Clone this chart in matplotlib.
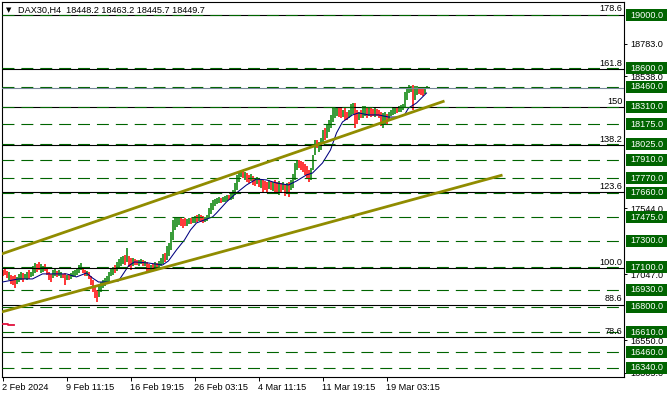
import matplotlib
matplotlib.use("Agg")
import matplotlib.pyplot as plt
from matplotlib import transforms
from matplotlib.patches import Rectangle

plt.rcParams['font.family'] = ['Liberation Sans', 'DejaVu Sans']
plt.rcParams['font.size'] = 6.6
plt.rcParams['lines.scale_dashes'] = False

# ---- data: DAX30 H4 bars (high / low / direction u=up d=down) ----
highs = [
    17079, 17086, 17071, 17064, 17041, 17034, 17041, 17026, 17049, 17064,
    17056, 17049, 17064, 17079, 17064, 17109, 17131, 17124, 17139, 17124,
    17109, 17124, 17094, 17064, 17049, 17079, 17094, 17071, 17079, 17064,
    17049, 17056, 17041, 17049, 17056, 17071, 17079, 17094, 17116, 17131,
    17101, 17079, 17071, 17064, 17034, 17003, 16958, 16928, 16958, 16988,
    17003, 17018, 17034, 17064, 17094, 17101, 17116, 17139, 17162, 17177,
    17184, 17192, 17244, 17184, 17169, 17169, 17162, 17154, 17154, 17162,
    17154, 17147, 17139, 17124, 17116, 17124, 17139, 17131, 17147, 17169,
    17199, 17207, 17259, 17282, 17365, 17456, 17470, 17470, 17478, 17470,
    17463, 17470, 17463, 17470, 17470, 17478, 17486, 17493, 17501, 17493,
    17486, 17478, 17493, 17546, 17584, 17606, 17614, 17621, 17629, 17621,
    17629, 17636, 17644, 17644, 17659, 17682, 17734, 17795, 17825, 17832,
    17832, 17817, 17809, 17795, 17802, 17787, 17772, 17779, 17772, 17764,
    17757, 17749, 17742, 17757, 17749, 17742, 17757, 17742, 17749, 17734,
    17742, 17727, 17734, 17742, 17757, 17802, 17885, 17908, 17908, 17900,
    17892, 17877, 17862, 17832, 17847, 17945, 18058, 18058, 18043, 18073,
    18134, 18149, 18171, 18209, 18247, 18299, 18299, 18307, 18299, 18299,
    18284, 18299, 18269, 18284, 18330, 18337, 18337, 18284, 18269, 18284,
    18314, 18314, 18299, 18307, 18299, 18292, 18299, 18292, 18284, 18269,
    18262, 18269, 18254, 18269, 18284, 18299, 18299, 18307, 18314, 18322,
    18330, 18420, 18450, 18473, 18465, 18473, 18465, 18465, 18457, 18450,
    18442, 18450, 18463.2,
]
lows = [
    17034, 17041, 17018, 17003, 16973, 16966, 16943, 16973, 16988, 17003,
    16988, 17011, 17003, 17011, 17026, 17034, 17056, 17064, 17079, 17056,
    17064, 17071, 17041, 17003, 16988, 17018, 17034, 17026, 17034, 17018,
    17018, 16966, 17003, 17003, 17011, 17026, 17034, 17041, 17056, 17079,
    17056, 17034, 17034, 17011, 16966, 16913, 16868, 16838, 16875, 16913,
    16943, 16958, 16973, 16988, 17034, 17041, 17056, 17071, 17094, 17109,
    17124, 17116, 17139, 17101, 17079, 17109, 17116, 17116, 17109, 17124,
    17109, 17109, 17064, 17071, 17064, 17079, 17086, 17079, 17094, 17109,
    17124, 17139, 17154, 17184, 17230, 17305, 17380, 17403, 17418, 17410,
    17395, 17410, 17410, 17425, 17425, 17433, 17433, 17440, 17448, 17440,
    17433, 17440, 17448, 17470, 17501, 17531, 17561, 17576, 17584, 17584,
    17591, 17591, 17599, 17606, 17606, 17614, 17644, 17682, 17742, 17779,
    17772, 17757, 17742, 17734, 17749, 17719, 17712, 17727, 17704, 17697,
    17666, 17682, 17659, 17689, 17682, 17674, 17666, 17659, 17644, 17666,
    17682, 17636, 17651, 17629, 17682, 17697, 17757, 17832, 17847, 17832,
    17817, 17795, 17772, 17742, 17757, 17832, 17945, 17998, 17968, 17983,
    18043, 18058, 18073, 18118, 18149, 18194, 18224, 18239, 18231, 18224,
    18231, 18209, 18209, 18224, 18239, 18254, 18149, 18179, 18209, 18224,
    18224, 18239, 18224, 18239, 18231, 18239, 18231, 18239, 18224, 18164,
    18149, 18171, 18179, 18209, 18239, 18247, 18254, 18262, 18269, 18269,
    18284, 18299, 18360, 18412, 18420, 18284, 18360, 18397, 18405, 18397,
    18390, 18405, 18445.7,
]
directions = (
    "ddduddduuu" "duuduuuddu" "udddduuduu" "dduduuuuuu" "dduddddduu"
    "uuuuuuduuu" "ududdudduu" "duddududuu" "uduuuuuuud" "dduuduudud"
    "duuuuuuuud" "uuuduuuuuu" "dudduddudu" "dddududdud" "ududuuuudd"
    "dddduuuduu" "uduuuuuudd" "udduuuddud" "uududduddd" "uuduuuuduu"
    "uuuuuduudd" "duu"
)
last_ohlc = (18448.2, 18463.2, 18445.7, 18449.7)

# moving average (navy line) read at selected bars
ma_idx = [0, 8, 15, 20, 32, 37, 42, 45, 48, 53, 58, 60, 63, 66, 73, 80, 83, 87,
          91, 94, 97, 101, 105, 107, 112, 117, 122, 127, 132, 137, 143, 147,
          152, 155, 160, 164, 167, 170, 175, 178, 183, 188, 193, 198, 201, 203,
          207, 211, 212]
ma_val = [16988, 17011, 17011, 17049, 17049, 17026, 17056, 17018, 16988, 16988,
          16996, 17041, 17109, 17139, 17131, 17116, 17147, 17230, 17305, 17380,
          17433, 17456, 17478, 17508, 17591, 17659, 17719, 17764, 17757, 17734,
          17719, 17749, 17795, 17809, 17885, 17983, 18111, 18194, 18247, 18262,
          18247, 18247, 18231, 18231, 18247, 18299, 18337, 18397, 18412]

# horizontal levels
levels = [19000, 18600, 18460, 18310, 18175, 18025, 17910, 17770, 17660,
          17475, 17300, 17100, 16930, 16800, 16610, 16460, 16340]
fib_low, fib_high = 14662, 17091
fib_ratios = [78.6, 88.6, 100.0, 123.6, 138.2, 150, 161.8, 178.6]
fib_labels = ["78.6", "88.6", "100.0", "123.6", "138.2", "150", "161.8", "178.6"]

# trend lines (bar index, price)
upper_line = ([-0.5, 221], [17199, 18352])
lower_line = ([-0.5, 250], [16762, 17794])
red_mark = ([0, 2.5, 2.5, 5.5], [16674, 16674, 16664, 16664])

# price scale labels that are not hidden behind the level boxes
price_ticks = [18783, 18538, 17544, 17047, 16550, 16305]
date_pos = [0, 32, 64, 96, 128, 160, 192]
date_labels = ["2 Feb 2024", "9 Feb 11:15", "16 Feb 19:15", "26 Feb 03:15",
               "4 Mar 11:15", "11 Mar 19:15", "19 Mar 03:15"]

# ---- figure ----
W, H = 670, 398
fig = plt.figure(figsize=(W / 100, H / 100), dpi=100)
L, R, T, B = 2, 624, 2, 377
ax = fig.add_axes([L / W, (H - B) / H, (R - L) / W, (B - T) / H])
ax.set_xlim(-0.25, 310.75)
ax.set_ylim(16272, 19098)
for s in ax.spines.values():
    s.set_linewidth(0.8)
    s.set_color("black")

# bars
idx = list(range(len(highs)))
cols = ["#008000" if d == "u" else "#ff0000" for d in directions]
ax.vlines(idx, lows, highs, colors=cols, linewidths=1.1, zorder=2)

# moving average
ax.plot(ma_idx, ma_val, color="#000080", lw=0.75, zorder=3)

# fibo lines
for r, lab in zip(fib_ratios, fib_labels):
    lv = fib_low + (fib_high - fib_low) * r / 100
    ax.axhline(lv, color="black", lw=0.8, zorder=4)
    ax.text(310, lv + 12, lab, ha="right", va="bottom", zorder=6)

# support / resistance levels
for lv in levels:
    ax.axhline(lv, color="#006400", lw=0.8, linestyle=(0, (8.6, 5.0)), zorder=5)

# bid line
ax.axhline(last_ohlc[3], color="#778899", lw=0.8, zorder=5)

# trend lines
ax.plot(*upper_line, color="#908c00", lw=2.0, zorder=5, solid_capstyle="butt")
ax.plot(*lower_line, color="#908c00", lw=2.0, zorder=5, solid_capstyle="butt")
ax.plot(*red_mark, color="#e0103c", lw=1.3, zorder=5)

# axes ticks
ax.yaxis.tick_right()
ax.set_yticks(price_ticks)
ax.set_yticklabels([f"{v:.1f}" for v in price_ticks])
ax.tick_params(axis="y", length=2.2, width=0.7, pad=2.2)
ax.set_xticks(date_pos)
ax.set_xticklabels(date_labels)
ax.tick_params(axis="x", length=3, width=0.7, pad=1.5)
for t in ax.get_xticklabels():
    t.set_ha("left")

# price label boxes
blend = transforms.blended_transform_factory(fig.transFigure, ax.transData)
ppx = (19098 - 16272) / (B - T)
for lv in levels:
    fig.add_artist(Rectangle((626 / W, lv - 6 * ppx), 41 / W, 12 * ppx,
                             transform=blend, facecolor="#006400",
                             edgecolor="none", zorder=10))
    fig.text(647 / W, lv, f"{lv:.1f}", transform=blend, color="white",
             ha="center", va="center", zorder=11)

# title
fig.text(6 / W, 1 - 10 / H, "\u25bc", fontsize=5, va="center", ha="left",
         family=["DejaVu Sans"])
fig.text(18 / W, 1 - 10 / H,
         "DAX30,H4  18448.2 18463.2 18445.7 18449.7",
         va="center", ha="left")

fig.savefig("out.png", dpi=100)
